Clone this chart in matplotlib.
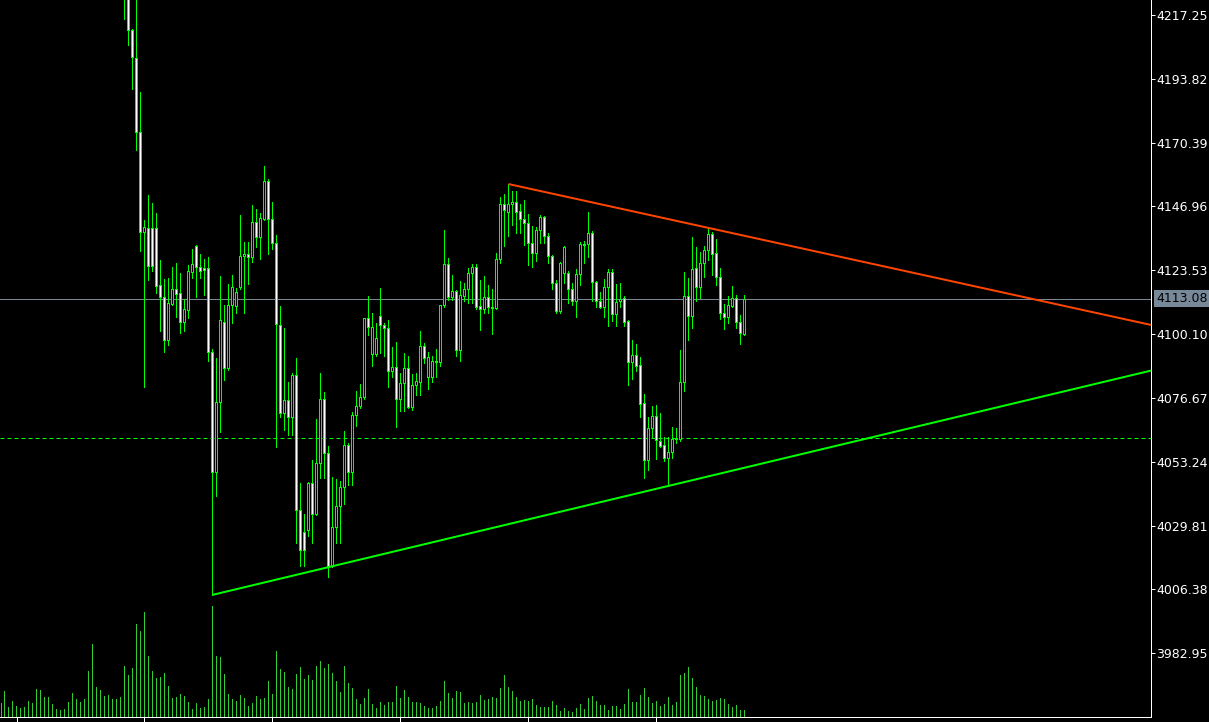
import matplotlib
matplotlib.use("Agg")
import matplotlib.pyplot as plt
import numpy as np

# ---------------- data ----------------
first_bar = 31  # earlier bars are above the visible price range

opens = [
    4229.0, 4224.0, 4211.8, 4201.5, 4174.3, 4137.6, 4139.1, 4139.1, 4139.1, 4118.2,
    4113.7, 4098.0, 4111.2, 4116.7, 4115.2, 4104.6, 4109.0, 4122.9, 4132.5, 4124.8,
    4124.4, 4124.4, 4093.6, 4049.5, 4075.2, 4104.6, 4087.7, 4110.8, 4110.4, 4117.4,
    4128.8, 4129.5, 4128.4, 4141.3, 4135.8, 4142.4, 4156.3, 4142.4, 4133.6, 4103.5,
    4071.2, 4075.9, 4069.7, 4085.1, 4035.6, 4027.5, 4028.2, 4045.5, 4034.1, 4052.8,
    4076.3, 4056.5, 4015.0, 4029.3, 4037.0, 4044.0, 4059.4, 4049.5, 4070.4, 4073.7,
    4077.0, 4106.0, 4092.8, 4092.8, 4106.8, 4103.5, 4102.4, 4086.6, 4088.1, 4076.3,
    4082.2, 4087.7, 4073.4, 4081.4, 4082.5, 4095.8, 4084.4, 4084.4, 4090.3, 4089.9,
    4110.8, 4125.9, 4113.7, 4115.9, 4094.3, 4114.1, 4116.7, 4122.6, 4124.8, 4110.4,
    4109.3, 4113.7, 4110.1, 4109.7, 4127.7, 4147.9, 4144.9, 4147.9, 4148.6, 4145.3,
    4142.4, 4140.9, 4133.6, 4129.9, 4138.3, 4143.1, 4136.1, 4128.8, 4118.9, 4108.6,
    4122.6, 4122.6, 4116.7, 4112.3, 4122.2, 4132.8, 4133.2, 4137.2, 4119.3, 4112.3,
    4110.1, 4117.4, 4122.9, 4107.5, 4112.3, 4113.4, 4104.9, 4089.9, 4092.5, 4088.8,
    4074.8, 4053.9, 4065.7, 4070.1, 4060.9, 4059.4, 4054.6, 4056.8, 4061.6, 4061.6,
    4082.5, 4114.1, 4106.8, 4124.4, 4117.4, 4126.2, 4131.0, 4136.9, 4129.9, 4121.1,
    4107.9, 4106.4, 4110.4, 4113.4, 4104.6, 4100.2,
]
highs = [
    4232.0, 4226.0, 4212.1, 4224.5, 4189.0, 4142.0, 4151.2, 4148.2, 4144.6, 4127.3,
    4120.4, 4120.7, 4124.8, 4126.2, 4122.6, 4113.0, 4125.5, 4131.4, 4132.8, 4129.5,
    4127.7, 4128.4, 4094.7, 4091.4, 4121.5, 4110.8, 4118.5, 4121.8, 4117.0, 4143.8,
    4133.9, 4133.9, 4147.5, 4146.0, 4144.6, 4161.8, 4157.1, 4148.6, 4136.5, 4110.4,
    4102.4, 4082.5, 4085.8, 4091.4, 4045.5, 4034.1, 4045.8, 4053.9, 4069.0, 4085.8,
    4078.9, 4059.1, 4047.7, 4046.9, 4046.2, 4064.6, 4060.2, 4071.5, 4079.2, 4081.8,
    4106.0, 4114.1, 4107.9, 4104.2, 4117.0, 4104.2, 4105.3, 4095.4, 4097.2, 4085.8,
    4093.2, 4092.1, 4085.5, 4085.8, 4101.3, 4096.9, 4093.6, 4092.1, 4094.7, 4110.8,
    4138.3, 4128.1, 4121.8, 4116.3, 4119.6, 4118.9, 4124.4, 4125.9, 4125.9, 4120.0,
    4121.5, 4118.2, 4116.7, 4129.9, 4150.5, 4151.6, 4155.2, 4152.7, 4152.7, 4147.9,
    4149.4, 4144.2, 4139.8, 4139.4, 4143.8, 4143.5, 4137.2, 4129.2, 4120.0, 4126.6,
    4132.5, 4123.3, 4118.9, 4124.0, 4133.9, 4134.3, 4144.9, 4138.0, 4119.6, 4115.6,
    4120.4, 4124.0, 4124.0, 4118.5, 4118.9, 4114.1, 4105.3, 4098.0, 4096.5, 4091.7,
    4078.1, 4069.7, 4073.7, 4074.1, 4071.2, 4062.4, 4062.4, 4066.0, 4065.7, 4094.3,
    4122.9, 4120.7, 4135.8, 4132.1, 4130.3, 4132.5, 4139.1, 4137.6, 4135.0, 4124.4,
    4111.2, 4114.1, 4117.8, 4114.5, 4107.1, 4114.5,
]
lows = [
    4215.8, 4206.2, 4190.1, 4167.7, 4130.6, 4080.7, 4120.0, 4123.3, 4115.2, 4101.3,
    4093.6, 4096.1, 4110.8, 4106.4, 4100.5, 4101.3, 4106.0, 4120.7, 4113.7, 4120.7,
    4114.5, 4090.3, 4004.4, 4040.7, 4064.2, 4083.3, 4086.9, 4104.2, 4107.9, 4116.7,
    4107.9, 4118.5, 4126.6, 4132.1, 4127.7, 4142.0, 4129.5, 4131.4, 4058.7, 4069.7,
    4064.9, 4063.1, 4063.1, 4023.4, 4015.0, 4015.0, 4026.0, 4023.4, 4033.7, 4047.3,
    4047.3, 4011.0, 4014.6, 4023.4, 4023.4, 4037.8, 4044.7, 4044.7, 4066.4, 4073.0,
    4076.3, 4099.8, 4088.4, 4092.1, 4093.2, 4092.1, 4080.7, 4084.4, 4066.0, 4071.9,
    4071.9, 4073.0, 4072.3, 4077.8, 4077.8, 4089.5, 4080.0, 4082.5, 4084.4, 4088.4,
    4110.1, 4112.6, 4112.6, 4092.1, 4090.3, 4112.3, 4111.5, 4111.5, 4109.3, 4101.6,
    4107.9, 4107.9, 4100.2, 4109.3, 4126.2, 4132.5, 4136.1, 4140.2, 4137.2, 4137.2,
    4132.8, 4125.5, 4124.8, 4127.0, 4133.6, 4133.6, 4126.2, 4116.7, 4107.9, 4107.9,
    4118.9, 4111.5, 4110.8, 4106.4, 4118.2, 4126.2, 4128.4, 4112.3, 4110.1, 4109.7,
    4106.4, 4103.1, 4104.9, 4103.1, 4110.1, 4103.1, 4081.4, 4083.6, 4086.6, 4069.7,
    4047.3, 4050.2, 4062.4, 4054.3, 4058.7, 4053.5, 4044.4, 4054.6, 4060.2, 4060.9,
    4079.2, 4098.0, 4102.4, 4112.3, 4113.4, 4121.1, 4127.3, 4121.8, 4118.2, 4105.7,
    4102.0, 4104.2, 4110.1, 4102.4, 4096.5, 4099.8,
]
closes = [
    4224.0, 4211.8, 4201.8, 4174.3, 4137.6, 4139.4, 4125.1, 4125.1, 4117.8, 4113.7,
    4098.0, 4111.5, 4116.7, 4114.8, 4104.6, 4109.3, 4123.3, 4125.9, 4124.8, 4123.3,
    4123.7, 4093.6, 4049.5, 4075.2, 4105.3, 4087.7, 4110.8, 4117.4, 4115.6, 4128.8,
    4129.5, 4128.4, 4141.3, 4135.8, 4142.7, 4156.3, 4142.4, 4133.6, 4103.8, 4071.2,
    4075.9, 4069.7, 4085.1, 4035.6, 4020.9, 4020.9, 4045.5, 4034.1, 4052.8, 4076.3,
    4056.5, 4015.0, 4029.3, 4037.0, 4044.0, 4059.4, 4049.5, 4070.4, 4073.7, 4077.0,
    4106.0, 4102.7, 4102.7, 4098.7, 4103.5, 4102.4, 4086.6, 4088.1, 4076.3, 4082.2,
    4087.7, 4073.4, 4081.4, 4082.9, 4095.8, 4091.4, 4091.7, 4090.3, 4089.9, 4110.8,
    4125.9, 4113.7, 4115.9, 4094.3, 4114.5, 4116.7, 4122.6, 4124.8, 4110.1, 4109.3,
    4113.7, 4110.1, 4109.7, 4127.7, 4147.9, 4145.7, 4147.9, 4148.6, 4144.9, 4142.4,
    4140.9, 4133.6, 4129.9, 4138.3, 4143.1, 4136.1, 4128.8, 4118.9, 4108.6, 4126.2,
    4132.1, 4116.7, 4112.3, 4122.2, 4133.2, 4133.2, 4137.2, 4119.3, 4112.3, 4110.1,
    4117.4, 4122.9, 4107.5, 4111.9, 4113.0, 4104.6, 4089.9, 4092.5, 4088.4, 4074.5,
    4053.9, 4065.7, 4070.1, 4061.3, 4059.1, 4054.6, 4056.8, 4061.6, 4062.0, 4082.5,
    4114.1, 4106.8, 4124.0, 4117.4, 4126.2, 4131.0, 4136.9, 4129.5, 4121.1, 4107.9,
    4106.4, 4110.8, 4113.4, 4104.6, 4100.5, 4113.08,
]
volumes = [
    42, 78, 30, 48, 33, 27, 30, 48, 42, 84,
    81, 60, 60, 39, 24, 21, 24, 45, 72, 54,
    45, 54, 138, 219, 90, 81, 63, 66, 54, 54,
    60, 153, 126, 147, 279, 258, 315, 183, 138, 117,
    120, 132, 93, 57, 60, 69, 63, 45, 24, 42,
    27, 30, 54, 333, 183, 180, 129, 69, 54, 48,
    66, 57, 33, 42, 63, 54, 57, 108, 69, 198,
    144, 135, 90, 84, 129, 150, 114, 126, 111, 153,
    168, 147, 159, 132, 108, 75, 153, 102, 87, 54,
    39, 57, 84, 39, 27, 45, 36, 45, 45, 93,
    57, 81, 60, 45, 45, 42, 33, 27, 27, 33,
    48, 108, 72, 57, 78, 75, 42, 45, 42, 45,
    66, 51, 54, 60, 57, 87, 126, 90, 78, 60,
    48, 51, 48, 54, 36, 30, 30, 30, 48, 36,
    18, 27, 18, 15, 27, 39, 24, 57, 63, 48,
    36, 36, 21, 33, 33, 24, 39, 84, 45, 45,
    66, 87, 60, 42, 48, 33, 39, 60, 36, 45,
    126, 132, 150, 117, 90, 66, 63, 54, 48, 51,
    57, 54, 39, 30, 36, 21, 21,
]
price_ticks = [4217.25, 4193.82, 4170.39, 4146.96, 4123.53, 4100.10,
               4076.67, 4053.24, 4029.81, 4006.38, 3982.95]
time_ticks = [4, 36, 68, 100, 132, 164]
current_price = 4113.08
level_price = 4062.0
support_bars = [53, 167]     # trendline through these bars' lows
resist_bars = [127, 177]     # trendline through these bars' highs

# ---------------- figure ----------------
W, H, DPI = 1209, 722, 100
fig = plt.figure(figsize=(W / DPI, H / DPI), dpi=DPI, facecolor="black")
ax_l, ax_b = 0.0, 5 / H
ax_w, ax_h = 1151 / W, 717 / H
ax = fig.add_axes([ax_l, ax_b, ax_w, ax_h], facecolor="black")
axv = fig.add_axes([ax_l, ax_b, ax_w, ax_h], facecolor="none")

px = 0.72  # one pixel in points
GREEN = "#00ff00"

o = np.array(opens); h = np.array(highs); l = np.array(lows); c = np.array(closes)
idx = np.arange(first_bar, first_bar + len(o))

# volumes
vidx = np.arange(len(volumes))
axv.vlines(vidx, 0, volumes, color="#32cd32", lw=px, antialiased=False)

# wicks
ax.vlines(idx, l, h, color=GREEN, lw=px, antialiased=False, zorder=2)
# bodies
bull = c >= o
bottoms = np.minimum(o, c)
heights = np.maximum(np.abs(c - o), 0.15)
ax.bar(idx[bull], heights[bull], bottom=bottoms[bull], width=0.5,
       facecolor="black", edgecolor=GREEN, lw=px, antialiased=False, zorder=3)
ax.bar(idx[~bull], heights[~bull], bottom=bottoms[~bull], width=0.5,
       facecolor="white", edgecolor=GREEN, lw=px, antialiased=False, zorder=3)

xmax = (1151 / 4) - 0.125
xmin = -0.125

# horizontal lines
ax.axhline(current_price, color="#778899", lw=px, zorder=1)
ax.axhline(level_price, color=GREEN, lw=px, ls=(0, (4, 3)), zorder=1)

# trendlines
s0, s1 = support_bars
sp0, sp1 = l[s0 - first_bar], l[s1 - first_bar]
slope = (sp1 - sp0) / (s1 - s0)
ax.plot([s0, xmax], [sp0, sp0 + slope * (xmax - s0)], color=GREEN, lw=2 * px,
        solid_capstyle="butt", zorder=4)
r0, r1 = resist_bars
rp0, rp1 = h[r0 - first_bar], h[r1 - first_bar]
rslope = (rp1 - rp0) / (r1 - r0)
ax.plot([r0, xmax], [rp0, rp0 + rslope * (xmax - r0)], color="#ff4500", lw=2 * px,
        solid_capstyle="butt", zorder=4)

# limits
per_px = (price_ticks[0] - price_ticks[-1]) / (653.3 - 15)
ytop = price_ticks[0] + 15 * per_px
ybot = ytop - 717 * per_px
ax.set_ylim(ybot, ytop)
ax.set_xlim(xmin, xmax)
axv.set_xlim(xmin, xmax)
axv.set_ylim(0, 717 * 3)
axv.axis("off")

# axes styling
for side in ["top", "left"]:
    ax.spines[side].set_visible(False)
for side in ["right", "bottom"]:
    ax.spines[side].set_color("white")
    ax.spines[side].set_linewidth(px)
ax.yaxis.tick_right()
ax.set_yticks(price_ticks)
ax.set_yticklabels([f"{v:.2f}" for v in price_ticks])
ax.tick_params(axis="y", colors="white", labelcolor="white", length=4 * px,
               width=px, direction="out", pad=1, labelsize=9)
ax.set_xticks(time_ticks)
ax.set_xticklabels([])
ax.tick_params(axis="x", colors="white", length=5 * px, width=px, direction="out")

ax.annotate(f"{current_price:.2f}", xy=(1, current_price),
            xycoords=("axes fraction", "data"), xytext=(5, 0),
            textcoords="offset pixels", va="center", ha="left", fontsize=9,
            color="black", annotation_clip=False,
            bbox=dict(boxstyle="square,pad=0.15", fc="#778899", ec="none"))

fig.savefig("out.png", dpi=DPI, facecolor="black")
